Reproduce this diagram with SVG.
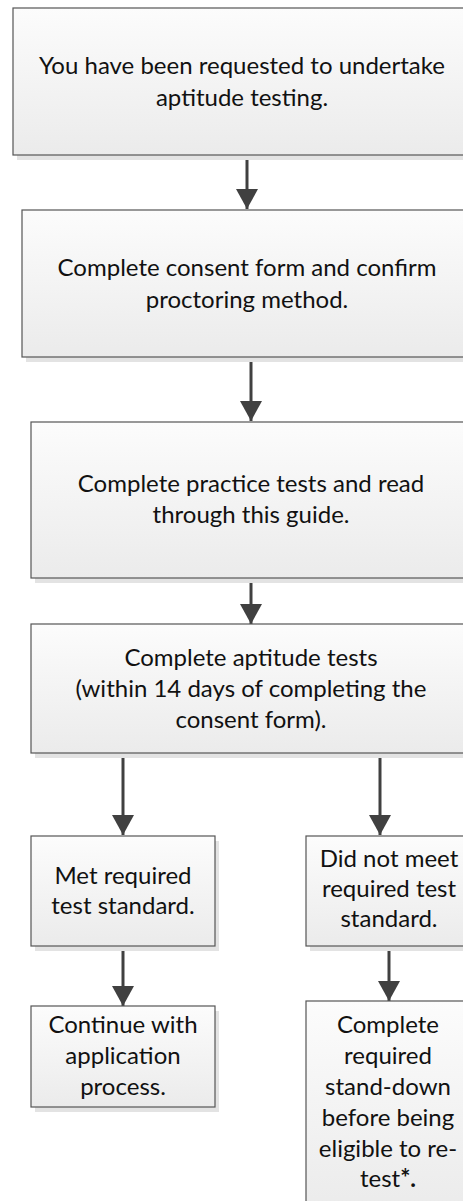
<svg xmlns="http://www.w3.org/2000/svg" width="463" height="1201" viewBox="0 0 463 1201">
<defs>
<linearGradient id="g" x1="0" y1="0" x2="0" y2="1">
<stop offset="0" stop-color="#fcfcfc"/>
<stop offset="1" stop-color="#ebebeb"/>
</linearGradient>
<marker id="ah" markerUnits="userSpaceOnUse" markerWidth="22" markerHeight="22" viewBox="0 0 20 22" refX="20" refY="11" orient="auto">
<path d="M0,0 L20,11 L0,22 z" fill="#404040"/>
</marker>
<style>
.sh{fill:#e3e3e3}
.bx{fill:url(#g);stroke:#555;stroke-width:1.2}
.t{font-family:Lato,"Liberation Sans",sans-serif;font-size:24px;fill:#111;text-anchor:middle}
.c{stroke:#404040;stroke-width:3;fill:none;marker-end:url(#ah)}
</style>
</defs>
<rect width="463" height="1201" fill="#fff"/>
<g id="connectors">
<line class="c" x1="247" y1="155" x2="247" y2="209"/>
<line class="c" x1="251" y1="357" x2="251" y2="421"/>
<line class="c" x1="251" y1="578" x2="251" y2="624"/>
<line class="c" x1="123" y1="753" x2="123" y2="835"/>
<line class="c" x1="380" y1="753" x2="380" y2="835"/>
<line class="c" x1="123" y1="946" x2="123" y2="1006"/>
<line class="c" x1="389" y1="946" x2="389" y2="1001"/>
</g>
<g id="n1">
<rect class="sh" x="17" y="13" width="470" height="147"/>
<rect class="bx" x="13" y="8" width="470" height="147"/>
<text class="t" x="242" y="74">You have been requested to undertake</text>
<text class="t" x="242" y="106">aptitude testing.</text>
</g>
<g id="n2">
<rect class="sh" x="26" y="215" width="470" height="147"/>
<rect class="bx" x="22" y="210" width="470" height="147"/>
<text class="t" x="247" y="276">Complete consent form and confirm</text>
<text class="t" x="247" y="308">proctoring method.</text>
</g>
<g id="n3">
<rect class="sh" x="35" y="427" width="470" height="156"/>
<rect class="bx" x="31" y="422" width="470" height="156"/>
<text class="t" x="251" y="492">Complete practice tests and read</text>
<text class="t" x="251" y="523">through this guide.</text>
</g>
<g id="n4">
<rect class="sh" x="35" y="629" width="470" height="129"/>
<rect class="bx" x="31" y="624" width="470" height="129"/>
<text class="t" x="251" y="666">Complete aptitude tests</text>
<text class="t" x="251" y="697">(within 14 days of completing the</text>
<text class="t" x="251" y="728">consent form).</text>
</g>
<g id="n5">
<rect class="sh" x="35" y="841" width="184" height="110"/>
<rect class="bx" x="31" y="836" width="184" height="110"/>
<text class="t" x="123" y="884">Met required</text>
<text class="t" x="123" y="914">test standard.</text>
</g>
<g id="n6">
<rect class="sh" x="310" y="841" width="184" height="110"/>
<rect class="bx" x="306" y="836" width="184" height="110"/>
<text class="t" x="389" y="867">Did not meet</text>
<text class="t" x="389" y="897">required test</text>
<text class="t" x="389" y="927">standard.</text>
</g>
<g id="n7">
<rect class="sh" x="35" y="1011" width="184" height="101"/>
<rect class="bx" x="31" y="1006" width="184" height="101"/>
<text class="t" x="123" y="1033">Continue with</text>
<text class="t" x="123" y="1064">application</text>
<text class="t" x="123" y="1095">process.</text>
</g>
<g id="n8">
<rect class="sh" x="310" y="1006" width="184" height="210"/>
<rect class="bx" x="306" y="1001" width="184" height="210"/>
<text class="t" x="388" y="1033">Complete</text>
<text class="t" x="388" y="1064">required</text>
<text class="t" x="388" y="1095">stand-down</text>
<text class="t" x="388" y="1126">before being</text>
<text class="t" x="388" y="1157">eligible to re-</text>
<text class="t" x="388" y="1187">test<tspan font-weight="bold">*.</tspan></text>
</g>
</svg>
